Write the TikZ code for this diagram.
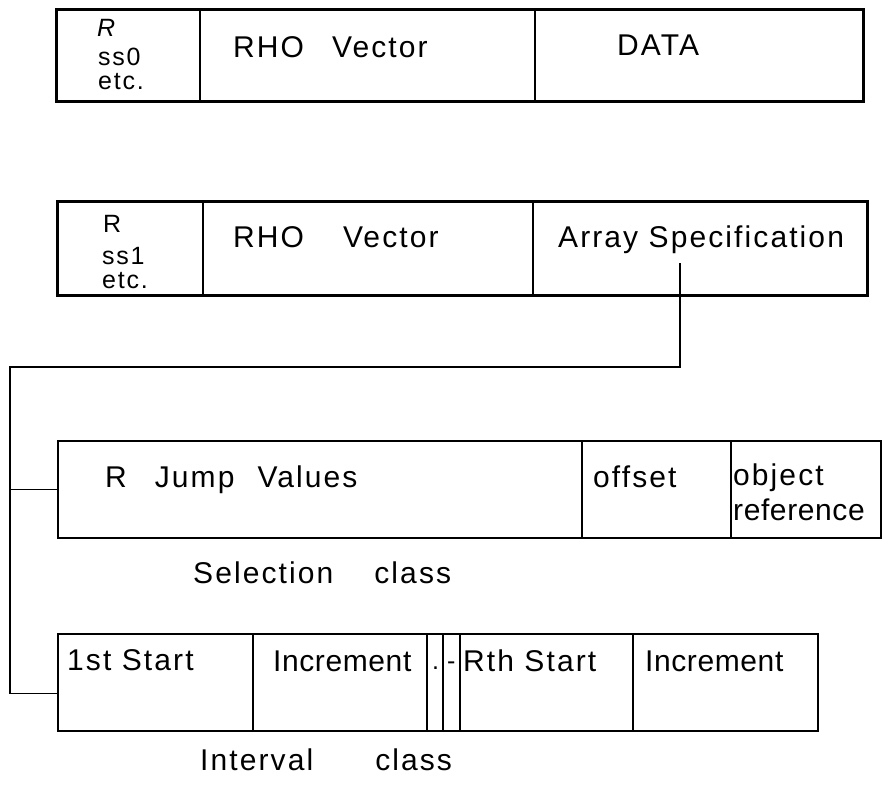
\documentclass[tikz,border=0pt]{standalone}
\usepackage{fontspec}
\setmainfont{Liberation Sans}[LetterSpace=7]
\newfontfamily\tightfont{Liberation Sans}[LetterSpace=2]
\usetikzlibrary{positioning}

\tikzset{
  rec/.style={draw, line width=2.6pt, anchor=north west, inner sep=0pt},
  cls/.style={draw, line width=1.7pt, anchor=north west, inner sep=0pt},
  lbl/.style={anchor=base west, inner sep=0pt, font=\fontsize{30}{30}\selectfont},
  tightlbl/.style={lbl, font=\fontsize{30}{30}\tightfont},
  tag/.style={anchor=base west, inner sep=0pt, font=\fontsize{25}{25}\selectfont},
  link/.style={line width=1.3pt},
}

\begin{document}
\begin{tikzpicture}[x=1pt, y=-1pt]
    \useasboundingbox (0,0) rectangle (884,785);

    % record holding the data
    \node[rec, minimum width=807pt, minimum height=92pt] (data) at (55,8) {};
    \draw[line width=2.6pt] (200,8) -- (200,100);
    \draw[line width=2.6pt] (535,8) -- (535,100);
    \node[tag] (r0) at (97,36) {\textit{R}};
    \node[tag] (ss0) at (98,65) {ss0};
    \node[tag] (etc0) at (98,89) {etc.};
    \node[lbl] (rho0) at (233,57) {RHO\hspace{28pt}Vector};
    \node[lbl] (dat) at (617,55) {DATA};

    % record holding the array specification
    \node[rec, minimum width=810pt, minimum height=94pt] (arr) at (56,200) {};
    \draw[line width=2.6pt] (203,200) -- (203,294);
    \draw[line width=2.6pt] (533,200) -- (533,294);
    \node[tag] (r1) at (103,232) {R};
    \node[tag] (ss1) at (102,264) {ss1};
    \node[tag] (etc1) at (102,288) {etc.};
    \node[lbl] (rho1) at (233,247) {RHO\hspace{39pt}Vector};
    \node[lbl] (spec) at (558,247) {Array Specification};
    \coordinate (tap) at (680,263);

    % selection class
    \node[cls, minimum width=823pt, minimum height=97pt] (sel) at (57,440) {};
    \draw[line width=1.7pt] (582,440) -- (582,537);
    \draw[line width=1.7pt] (731,440) -- (731,537);
    \node[lbl] (jump) at (105,487) {R\hspace{28pt}Jump\hspace{23pt}Values};
    \node[lbl] (off) at (593,487) {offset};
    \node[lbl] (obj) at (733,485) {object};
    \node[tightlbl] (ref) at (733,520) {reference};
    \node[lbl] (selcls) at (193,583) {Selection\hspace{41pt}class};

    % interval class
    \node[cls, minimum width=760pt, minimum height=97pt] (int) at (57,633) {};
    \foreach \x in {253,427,443,460,633}
        \draw[line width=1.7pt] (\x,633) -- (\x,730);
    \node[lbl] (st1) at (67,670) {1st Start};
    \node[tightlbl] (inc1) at (273,671) {Increment};
    \node[tag] (dt1) at (432,669) {.};
    \node[tag] (dt2) at (447,669) {-};
    \node[lbl] (stR) at (463,671) {Rth Start};
    \node[tightlbl] (inc2) at (645,671) {Increment};
    \node[lbl] (intcls) at (200,770) {Interval\hspace{62pt}class};

    % connector from the specification to both classes
    \coordinate (bend) at (10,367);
    \draw[link] (tap) |- (bend) |- (sel.west);
    \draw[link] (bend) |- ([yshift=-11pt]int.west);
\end{tikzpicture}
\end{document}
